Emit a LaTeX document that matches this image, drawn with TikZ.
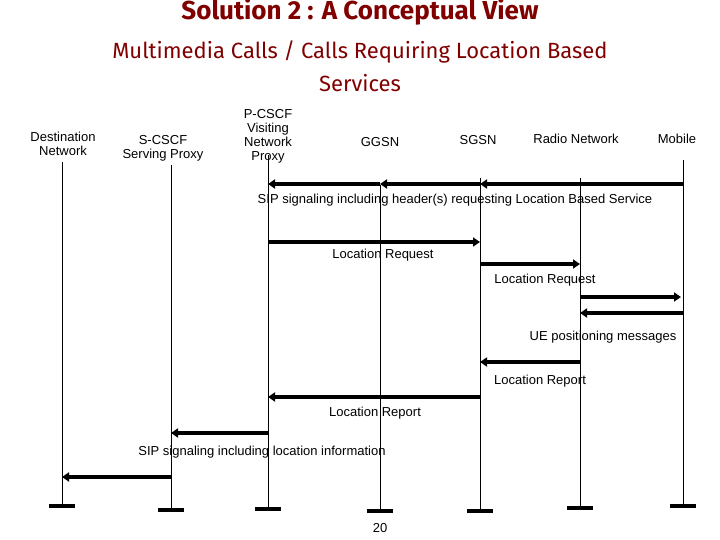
\documentclass[tikz,border=0pt]{standalone}
\usepackage{fontspec}
\setmainfont{Liberation Sans}
\newfontfamily\titlefont{Fira Sans}
\usetikzlibrary{arrows.meta}
\definecolor{titlered}{RGB}{128,0,0}

\begin{document}
\begin{tikzpicture}[x=1pt,y=-1pt,
    every node/.style={font=\fontsize{13}{14}\selectfont},
    head/.style={align=center,inner sep=0pt},
    life/.style={thin},
    stop/.style={line width=3.5pt},
    msg/.style={line width=3.5pt,-{Triangle[length=7pt,width=9pt]}},
    lbl/.style={inner sep=1pt}]
    \useasboundingbox (0,0) rectangle (720,540);

    \node[text=titlered,font=\titlefont\bfseries\fontsize{26}{28}\selectfont] (title) at (360,12) {Solution 2 : A Conceptual View};
    \node[text=titlered,font=\titlefont\fontsize{22}{33}\selectfont,align=center] (sub) at (360,66) {Multimedia Calls / Calls Requiring Location Based\\Services};

    \node[head] (dest) at (63,144) {Destination\\Network};
    \node[head] (scscf) at (163,148) {S-CSCF\\Serving Proxy};
    \node[head] (pcscf) at (268,136) {P-CSCF\\Visiting\\Network\\Proxy};
    \node[head] (ggsn) at (380,142) {GGSN};
    \node[head] (sgsn) at (478,140) {SGSN};
    \node[head] (radio) at (576,139) {Radio Network};
    \node[head] (mobile) at (677,139) {Mobile};

    % lifelines
    \foreach \n/\x/\t/\b in {dest/62/162/506,scscf/171/165/510,pcscf/268/155/509,ggsn/380/185/511,sgsn/480/178/511,radio/580/178/508,mobile/683/160/506}{
      \coordinate (\n-t) at (\x,\t);
      \coordinate (\n-b) at (\x,\b);
      \draw[life] (\n-t) -- (\n-b);
      \draw[stop] ([xshift=-13pt]\n-b) -- ([xshift=13pt]\n-b);
    }
    % message rows
    \foreach \r/\y in {1/184,2/242,3/264,4/297,5/313,6/362,7/397,8/433,9/477}
      \coordinate (r\r) at (0,\y);

    % messages
    \draw[msg] (mobile-t |- r1) -- (sgsn-t |- r1);
    \draw[msg] (sgsn-t |- r1) -- (ggsn-t |- r1);
    \draw[msg] (ggsn-t |- r1) -- (pcscf-t |- r1);
    \node[lbl] (m1) at (455,200) {SIP signaling including header(s) requesting Location Based Service};
    \draw[msg] (pcscf-t |- r2) -- (sgsn-t |- r2);
    \node[lbl] (m2) at (383,255) {Location Request};
    \draw[msg] (sgsn-t |- r3) -- (radio-t |- r3);
    \node[lbl] (m3) at (545,280) {Location Request};
    \draw[msg] (radio-t |- r4) -- ([xshift=-2pt]mobile-t |- r4);
    \draw[msg] (mobile-t |- r5) -- (radio-t |- r5);
    \node[lbl] (m4) at (603,337) {UE positioning messages};
    \draw[msg] (radio-t |- r6) -- (sgsn-t |- r6);
    \node[lbl] (m5) at (540,381) {Location Report};
    \draw[msg] (sgsn-t |- r7) -- (pcscf-t |- r7);
    \node[lbl] (m6) at (375,413) {Location Report};
    \draw[msg] (pcscf-t |- r8) -- (scscf-t |- r8);
    \node[lbl] (m7) at (262,452) {SIP signaling including location information};
    \draw[msg] (scscf-t |- r9) -- (dest-t |- r9);

    \node (page) at (380,528) {20};
\end{tikzpicture}
\end{document}
